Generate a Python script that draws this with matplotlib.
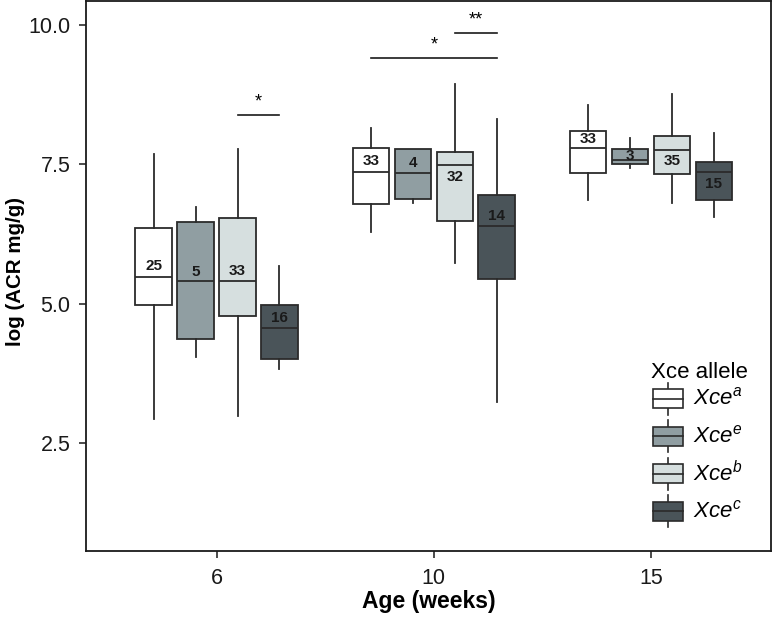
import matplotlib.pyplot as plt
from matplotlib.patches import Rectangle
from matplotlib.lines import Line2D

plt.rcParams['font.family'] = ['Liberation Sans', 'DejaVu Sans']
plt.rcParams['mathtext.fontset'] = 'custom'
plt.rcParams['mathtext.it'] = 'Liberation Sans:italic'
plt.rcParams['mathtext.rm'] = 'Liberation Sans'

# Dados
idades = ['6', '10', '15']
alelos = ['a', 'e', 'b', 'c']
cores = ['#ffffff', '#909ea2', '#d6dfdf', '#4a5459']

# por idade, uma lista por alelo: (whislo, q1, med, q3, whishi)
stats = {
    '6':  [(2.93, 4.98, 5.48, 6.36, 7.68),
           (4.05, 4.37, 5.40, 6.46, 6.74),
           (2.99, 4.77, 5.41, 6.54, 7.77),
           (3.82, 4.01, 4.56, 4.97, 5.68)],
    '10': [(6.28, 6.79, 7.37, 7.80, 8.15),
           (6.80, 6.88, 7.34, 7.78, 7.78),
           (5.72, 6.48, 7.49, 7.72, 8.94),
           (3.23, 5.44, 6.39, 6.94, 8.31)],
    '15': [(6.86, 7.34, 7.79, 8.10, 8.56),
           (7.44, 7.51, 7.57, 7.77, 7.97),
           (6.80, 7.32, 7.75, 8.01, 8.76),
           (6.55, 6.85, 7.36, 7.54, 8.07)],
}
contagens = {
    '6': [25, 5, 33, 16],
    '10': [33, 4, 32, 14],
    '15': [33, 3, 35, 15],
}
# deslocamento do rótulo em relação à mediana
desloc = {
    '6': [0.19, 0.17, 0.17, 0.19],
    '10': [0.18, 0.18, -0.21, 0.18],
    '15': [0.16, 0.08, -0.19, -0.22],
}
# significância: (idade, alelo inicial, alelo final, altura, texto)
signif = [
    ('6', 2, 3, 8.39, '*'),
    ('10', 0, 3, 9.41, '*'),
    ('10', 2, 3, 9.86, '**'),
]

passo = 0.193
largura = 0.168

fig = plt.figure(figsize=(7.72, 6.17), dpi=100)
ax = fig.add_axes([86 / 772, 1 - 551 / 617, 685 / 772, 550 / 617])

for i, idade in enumerate(idades):
    for j, alelo in enumerate(alelos):
        lo, q1, med, q3, hi = stats[idade][j]
        x = i + 1 + (j - 1.5) * passo
        ax.bxp([dict(whislo=lo, q1=q1, med=med, q3=q3, whishi=hi, fliers=[])],
               positions=[x], widths=largura, patch_artist=True, showcaps=False,
               boxprops=dict(facecolor=cores[j], edgecolor='#2b2b2b', linewidth=1.3),
               medianprops=dict(color='#2b2b2b', linewidth=1.3),
               whiskerprops=dict(color='#2b2b2b', linewidth=1.3),
               manage_ticks=False, zorder=2)
        ax.text(x, med + desloc[idade][j], str(contagens[idade][j]), ha='center',
                va='center', fontsize=11, fontweight='bold', color='#1a1a1a', zorder=3)

for idade, j0, j1, y, txt in signif:
    i = idades.index(idade)
    x0 = i + 1 + (j0 - 1.5) * passo
    x1 = i + 1 + (j1 - 1.5) * passo
    ax.plot([x0, x1], [y, y], color='#1a1a1a', lw=1.2)
    ax.text((x0 + x1) / 2, y + 0.07, txt, ha='center', va='bottom', fontsize=13)

ax.set_xlim(0.399, 3.552)
ax.set_ylim(0.56, 10.43)
ax.set_xticks([1, 2, 3])
ax.set_xticklabels(idades)
ax.set_yticks([2.5, 5.0, 7.5, 10.0])
ax.set_yticklabels(['2.5', '5.0', '7.5', '10.0'])
ax.tick_params(labelsize=15.5, length=5, width=1.1, colors='#1a1a1a', labelcolor='#1a1a1a')
ax.tick_params(axis='x', pad=7.5)
ax.tick_params(axis='y', pad=6.2)
for s in ax.spines.values():
    s.set_linewidth(1.3)
    s.set_color('#1a1a1a')

ax.set_xlabel('Age (weeks)', fontsize=16.5, fontweight='bold')
ax.xaxis.set_label_coords(0.501, -0.071)
ax.set_ylabel('log (ACR mg/g)', fontsize=14.8, fontweight='bold')
ax.yaxis.set_label_coords(-0.089, 0.509)

# Legenda desenhada à mão em coordenadas de pixel
def px(xp, yp):
    return (xp - 86) / 685, (551 - yp) / 550

tx, ty = px(651, 372)
ax.text(tx, ty, 'Xce allele', transform=ax.transAxes, fontsize=16, va='center', ha='left')
for k, alelo in enumerate(alelos):
    yc = 398.5 + k * 37.6
    x0, y0 = px(653, yc + 9.5)
    x1, y1 = px(683, yc - 9.5)
    xm, _ = px(668, yc)
    _, yt = px(0, yc - 16)
    _, yb = px(0, yc + 16)
    _, ym = px(0, yc)
    ax.add_line(Line2D([xm, xm], [yb, yt], transform=ax.transAxes, color='#2b2b2b', lw=1.2))
    ax.add_patch(Rectangle((x0, y0), x1 - x0, y1 - y0, transform=ax.transAxes,
                           facecolor=cores[k], edgecolor='#2b2b2b', lw=1.2, zorder=3))
    ax.add_line(Line2D([x0, x1], [ym, ym], transform=ax.transAxes, color='#2b2b2b', lw=1.2, zorder=4))
    lx, _ = px(693, yc)
    ax.text(lx, ym, r'$\mathit{Xce}^{\mathit{' + alelo + '}}$', transform=ax.transAxes,
            fontsize=16, va='center', ha='left')

plt.savefig('out.png', dpi=100)
